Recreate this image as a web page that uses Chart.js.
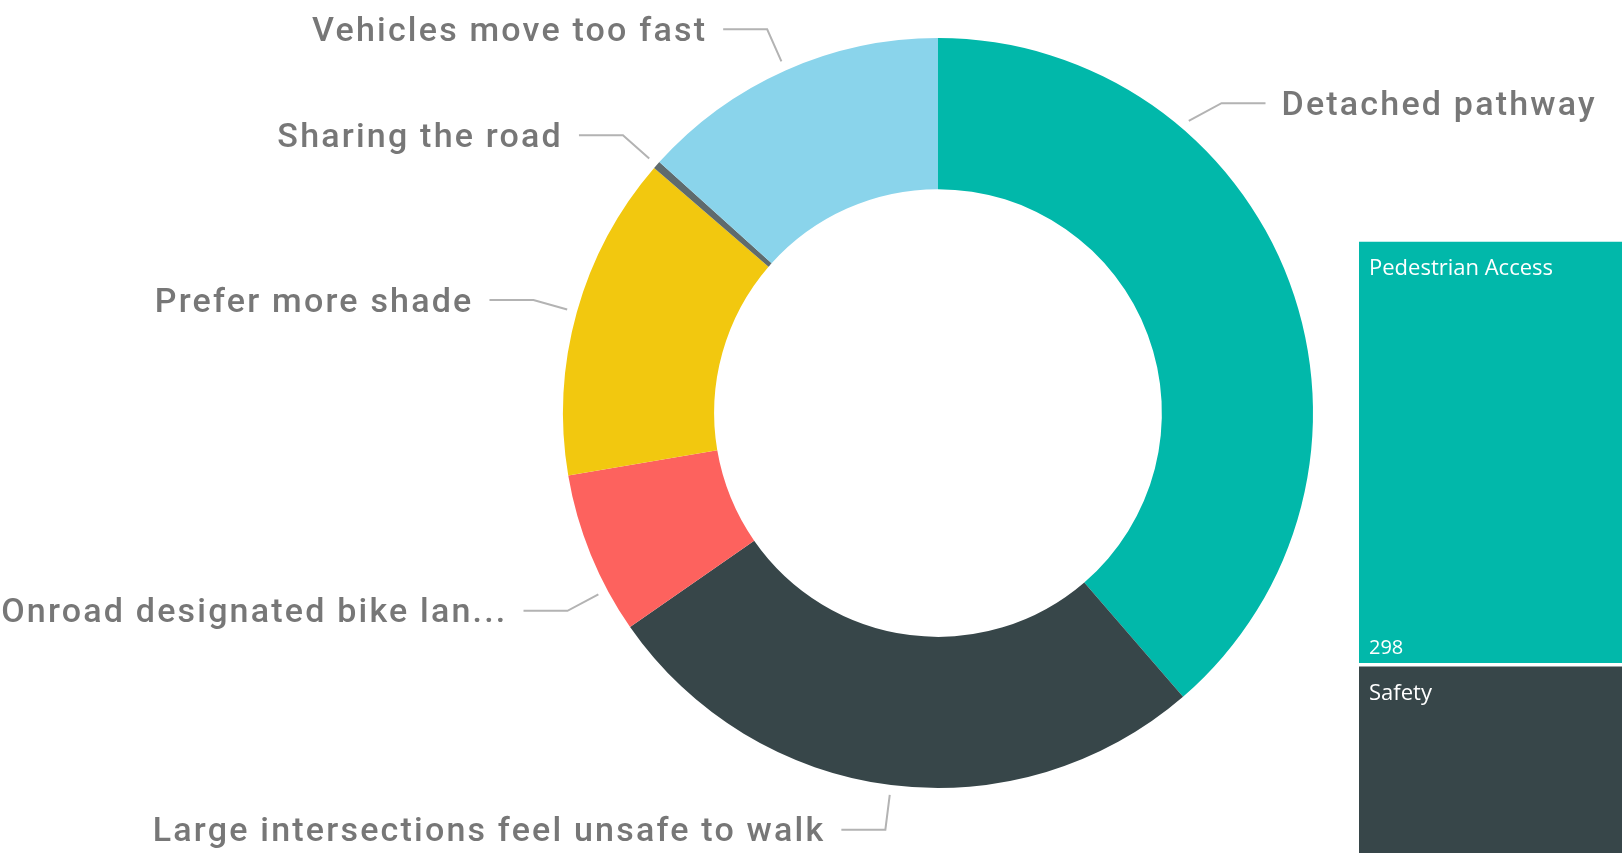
<!DOCTYPE html>
<html><head><meta charset="utf-8">
<script src="https://cdn.jsdelivr.net/npm/chart.js@4.4.1/dist/chart.umd.min.js"></script>
<style>
html,body{margin:0;padding:0;width:1622px;height:853px;overflow:hidden;background:#fff;}
#donutWrap{position:absolute;left:0;top:0;width:1622px;height:853px;}
#treeWrap{position:absolute;left:1359px;top:240px;width:263px;height:724px;}
canvas{display:block;}
</style></head><body>
<div id="donutWrap"><canvas id="donut" width="1622" height="853"></canvas></div>
<div id="treeWrap"><canvas id="tree" width="263" height="724"></canvas></div>
<script>
// ---- data ----
const categories = ["Detached pathway", "Large intersections feel unsafe to walk", "Onroad designated bike lanes", "Prefer more shade", "Sharing the road", "Vehicles move too fast"];
const counts = [116, 80, 21, 42, 1, 40];
const sliceColors = ["#01B8AA", "#374649", "#FD625E", "#F2C80F", "#5F6B6D", "#8AD4EB"];

const treeCategories = ["Pedestrian Access", "Safety"];
const treeValues = [298, 210];
const treeColors = ["#01B8AA", "#374649"];

// ---- donut outside labels with leader lines ----
const outLabels = {
  id: 'outLabels',
  afterDatasetsDraw(chart, args, opts) {
    const ctx = chart.ctx;
    const meta = chart.getDatasetMeta(0);
    meta.data.forEach((arc, i) => {
      const p = arc.getProps(['x', 'y', 'startAngle', 'endAngle', 'outerRadius'], true);
      const span = p.endAngle - p.startAngle;
      const f = (opts.anchor && opts.anchor[i] !== undefined) ? opts.anchor[i] : 0.5;
      const fe = (opts.elbowAnchor && opts.elbowAnchor[i] !== undefined) ? opts.elbowAnchor[i] : f;
      const a = p.startAngle + span * f;
      const ae = p.startAngle + span * fe;
      const r1 = p.outerRadius + opts.startGap, r2 = p.outerRadius + opts.elbowGap;
      const x1 = p.x + Math.cos(a) * r1, y1 = p.y + Math.sin(a) * r1;
      const x2 = p.x + Math.cos(ae) * r2, y2 = p.y + Math.sin(ae) * r2;
      const right = Math.cos(ae) >= 0;
      const dir = right ? 1 : -1;
      const x3 = x2 + dir * opts.hLen;
      ctx.save();
      ctx.strokeStyle = opts.lineColor;
      ctx.lineWidth = opts.lineWidth;
      ctx.beginPath();
      ctx.moveTo(x1, y1); ctx.lineTo(x2, y2); ctx.lineTo(x3, y2);
      ctx.stroke();
      let text = chart.data.labels[i];
      const t = opts.truncate && opts.truncate[i];
      if (t && text.length > t) text = text.slice(0, t) + '...';
      ctx.font = opts.font;
      if ('letterSpacing' in ctx) ctx.letterSpacing = opts.letterSpacing;
      ctx.fillStyle = opts.color;
      ctx.textAlign = right ? 'left' : 'right';
      ctx.textBaseline = 'middle';
      ctx.fillText(text, x3 + dir * opts.textGap, y2 + opts.textDy);
      ctx.restore();
    });
  }
};

new Chart(document.getElementById('donut'), {
  type: 'doughnut',
  data: {
    labels: categories,
    datasets: [{ data: counts, backgroundColor: sliceColors, borderWidth: 0 }]
  },
  options: {
    responsive: false,
    animation: false,
    cutout: '59.7%',
    layout: { padding: { left: 563, right: 309, top: 38, bottom: 65 } },
    plugins: {
      legend: { display: false },
      tooltip: { enabled: false },
      outLabels: {
        anchor: { 0: 0.292, 2: 0.266 },
        elbowAnchor: { 0: 0.305 },
        truncate: { 2: 26 },
        startGap: 10, elbowGap: 45, hLen: 44, textGap: 16, textDy: 3,
        lineColor: '#b3b3b3', lineWidth: 2,
        font: '500 34px Roboto', letterSpacing: '2.2px', color: '#777777'
      }
    }
  },
  plugins: [outLabels]
});

// ---- treemap-like stacked column ----
const treeLabels = {
  id: 'treeLabels',
  afterDatasetsDraw(chart, args, opts) {
    const ctx = chart.ctx;
    chart.data.datasets.forEach((ds, i) => {
      const el = chart.getDatasetMeta(i).data[0];
      const p = el.getProps(['x', 'y', 'base', 'width'], true);
      const top = Math.min(p.y, p.base) + 2;
      const bottom = Math.max(p.y, p.base) - 2;
      const left = p.x - p.width / 2;
      ctx.save();
      ctx.fillStyle = '#ffffff';
      ctx.textAlign = 'left';
      ctx.textBaseline = 'alphabetic';
      ctx.font = opts.nameFont;
      ctx.fillText(ds.label, left + 10, top + 33);
      ctx.font = opts.valueFont;
      ctx.fillText(String(ds.data[0]), left + 10, bottom - 9);
      ctx.restore();
    });
  }
};

const treeTotal = treeValues.reduce((s, v) => s + v, 0);
new Chart(document.getElementById('tree'), {
  type: 'bar',
  data: {
    labels: [''],
    datasets: treeCategories.map((c, i) => ({
      label: c,
      data: [treeValues[i]],
      backgroundColor: treeColors[i],
      borderColor: '#ffffff',
      borderWidth: { top: 2, bottom: 2, left: 0, right: 0 },
      borderSkipped: false,
      barPercentage: 1,
      categoryPercentage: 1
    }))
  },
  options: {
    responsive: false,
    animation: false,
    layout: { padding: 0 },
    scales: {
      x: { display: false, stacked: true },
      y: { display: false, stacked: true, reverse: true, min: 0, max: treeTotal }
    },
    plugins: {
      legend: { display: false },
      tooltip: { enabled: false },
      treeLabels: { nameFont: '400 22px "Open Sans"', valueFont: '400 20px "Open Sans"' }
    }
  },
  plugins: [treeLabels]
});
</script>
</body></html>
